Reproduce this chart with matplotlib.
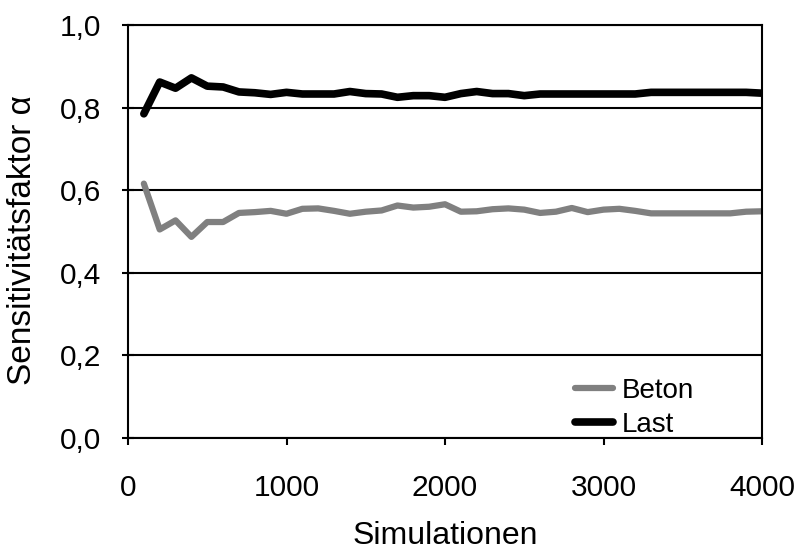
import numpy as np
import matplotlib.pyplot as plt

plt.rcParams['font.family'] = ['Liberation Sans', 'DejaVu Sans']

# simulations (x axis)
sims = np.arange(100, 4100, 100)

# sensitivity factor alpha, Beton (concrete)
beton = [0.616, 0.505, 0.527, 0.487, 0.523, 0.523, 0.545, 0.547, 0.550, 0.543,
         0.555, 0.556, 0.550, 0.543, 0.548, 0.551, 0.563, 0.558, 0.560, 0.566,
         0.548, 0.549, 0.554, 0.556, 0.553, 0.545, 0.548, 0.557, 0.547, 0.553,
         0.555, 0.550, 0.544, 0.544, 0.544, 0.544, 0.544, 0.544, 0.548, 0.549]

# sensitivity factor alpha, Last (load)
last = [0.785, 0.862, 0.847, 0.872, 0.852, 0.850, 0.838, 0.836, 0.832, 0.837,
        0.833, 0.833, 0.833, 0.839, 0.834, 0.833, 0.825, 0.829, 0.829, 0.825,
        0.834, 0.839, 0.834, 0.834, 0.829, 0.833, 0.833, 0.833, 0.833, 0.833,
        0.833, 0.833, 0.837, 0.837, 0.837, 0.837, 0.837, 0.837, 0.837, 0.835]

fig = plt.figure(figsize=(8, 5.5), dpi=100)
ax = fig.add_axes([0.16, 0.2036, 0.7925, 0.7509])

ax.plot(sims, beton, color='#808080', lw=4.5, solid_capstyle='round',
        solid_joinstyle='round', label='Beton')
ax.plot(sims, last, color='black', lw=5.5, solid_capstyle='round',
        solid_joinstyle='round', label='Last')

ax.set_xlim(0, 4000)
ax.set_ylim(0, 1.0)
ax.set_xticks([0, 1000, 2000, 3000, 4000])
ax.set_yticks([0.0, 0.2, 0.4, 0.6, 0.8, 1.0])
ax.set_yticklabels(['0,0', '0,2', '0,4', '0,6', '0,8', '1,0'])

# horizontal grid
ax.grid(axis='y', color='black', lw=1.5)
ax.set_axisbelow(True)
for s in ax.spines.values():
    s.set_linewidth(1.5)

ax.tick_params(axis='y', direction='inout', length=8, width=1.5, labelsize=21.5, pad=15)
ax.tick_params(axis='x', direction='out', length=5, width=1.5, labelsize=21.5, pad=21)

ax.set_xlabel('Simulationen', fontsize=23)
ax.set_ylabel('Sensitivitätsfaktor α', fontsize=24)
ax.xaxis.set_label_coords(0.5, -0.2)
ax.yaxis.set_label_coords(-0.142, 0.48)

ax.legend(loc='lower left', bbox_to_anchor=(0.705, 0.0), frameon=False,
          fontsize=20, handlelength=1.37, handletextpad=0.3, labelspacing=0.3,
          borderaxespad=0, borderpad=0)

plt.savefig('out.png', dpi=100)
